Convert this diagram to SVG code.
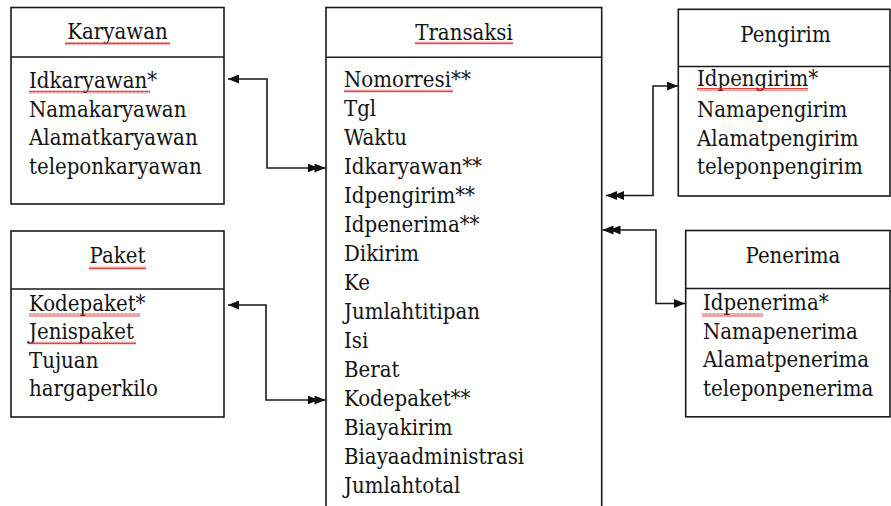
<svg xmlns="http://www.w3.org/2000/svg" width="891" height="506" viewBox="0 0 891 506">
<style>
.box{fill:#fff;stroke:#1a1a1a;stroke-width:1.6}
.div{stroke:#1a1a1a;stroke-width:1.6}
.t{font-family:'DejaVu Serif Condensed','DejaVu Serif',serif;font-stretch:condensed;font-size:22px;fill:#141414}
.title{text-anchor:middle}
.conn{fill:none;stroke:#1a1a1a;stroke-width:1.6}
.spell{fill:url(#wave)}
</style>
<defs>
<pattern id="wave" width="4" height="3" patternUnits="userSpaceOnUse">
<path d="M0 2.6 L1 0.4 L2 2.6 L3 0.4 L4 2.6" fill="none" stroke="#e03030" stroke-width="0.9"/>
</pattern>
<marker id="arr" viewBox="0 0 11 9" refX="11" refY="4.5" markerWidth="11" markerHeight="9" markerUnits="userSpaceOnUse" orient="auto-start-reverse">
<path d="M0,0 L11,4.5 L0,9 Z" fill="#111"/>
</marker>
<marker id="darr" viewBox="0 0 18 9" refX="18" refY="4.5" markerWidth="18" markerHeight="9" markerUnits="userSpaceOnUse" orient="auto-start-reverse">
<path d="M0,0 L11,4.5 L0,9 Z M7,0 L18,4.5 L7,9 Z" fill="#111"/>
</marker>
</defs>
<rect width="891" height="506" fill="#fff"/>

<g id="karyawan">
<rect class="box" x="11" y="7.5" width="213" height="196.5"/>
<line class="div" x1="11" y1="57" x2="224" y2="57"/>
<text class="t title" x="117.5" y="39">Karyawan</text>
<rect class="spell" x="65" y="42" width="105" height="3"/>
<text class="t" x="29" y="88">Idkaryawan*</text>
<rect class="spell" x="29" y="90.5" width="121" height="3"/>
<text class="t" x="29" y="116.5">Namakaryawan</text>
<text class="t" x="29" y="145">Alamatkaryawan</text>
<text class="t" x="29" y="173.5">teleponkaryawan</text>
</g>

<g id="paket">
<rect class="box" x="11" y="231" width="213" height="186"/>
<line class="div" x1="11" y1="289" x2="224" y2="289"/>
<text class="t title" x="117.5" y="262.5">Paket</text>
<rect class="spell" x="89" y="266.5" width="57" height="3"/>
<text class="t" x="29" y="310.5">Kodepaket*</text>
<rect class="spell" x="29" y="313.5" width="111" height="3"/>
<text class="t" x="29" y="339">Jenispaket</text>
<rect class="spell" x="29" y="341.5" width="107" height="3"/>
<text class="t" x="29" y="367.5">Tujuan</text>
<text class="t" x="29" y="396">hargaperkilo</text>
</g>

<g id="transaksi">
<rect class="box" x="326" y="7.5" width="275.7" height="510"/>
<line class="div" x1="326" y1="57.3" x2="601.7" y2="57.3"/>
<text class="t title" x="464" y="40">Transaksi</text>
<rect class="spell" x="415" y="41.5" width="98" height="3"/>
<text class="t" x="344" y="86.7">Nomorresi**</text>
<rect class="spell" x="344" y="89.5" width="109" height="3"/>
<text class="t" x="344" y="115.7">Tgl</text>
<text class="t" x="344" y="144.7">Waktu</text>
<text class="t" x="344" y="173.8">Idkaryawan**</text>
<text class="t" x="344" y="202.8">Idpengirim**</text>
<text class="t" x="344" y="231.8">Idpenerima**</text>
<text class="t" x="344" y="260.8">Dikirim</text>
<text class="t" x="344" y="289.8">Ke</text>
<text class="t" x="344" y="318.9">Jumlahtitipan</text>
<text class="t" x="344" y="347.9">Isi</text>
<text class="t" x="344" y="376.9">Berat</text>
<text class="t" x="344" y="405.9">Kodepaket**</text>
<text class="t" x="344" y="434.9">Biayakirim</text>
<text class="t" x="344" y="464">Biayaadministrasi</text>
<text class="t" x="344" y="493">Jumlahtotal</text>
</g>

<g id="pengirim">
<rect class="box" x="678.3" y="9.3" width="211.7" height="186.7"/>
<line class="div" x1="678.3" y1="66.5" x2="890" y2="66.5"/>
<text class="t title" x="785.5" y="41.5">Pengirim</text>
<text class="t" x="697" y="86">Idpengirim*</text>
<rect class="spell" x="697" y="88" width="111" height="3"/>
<text class="t" x="697" y="117">Namapengirim</text>
<text class="t" x="697" y="145.5">Alamatpengirim</text>
<text class="t" x="697" y="174">teleponpengirim</text>
</g>

<g id="penerima">
<rect class="box" x="685.7" y="230.5" width="204.3" height="186.3"/>
<line class="div" x1="685.7" y1="288.5" x2="890" y2="288.5"/>
<text class="t title" x="793" y="262.5">Penerima</text>
<text class="t" x="703" y="310">Idpenerima*</text>
<rect class="spell" x="702" y="313.5" width="61" height="3"/>
<text class="t" x="703" y="338.5">Namapenerima</text>
<text class="t" x="703" y="367">Alamatpenerima</text>
<text class="t" x="703" y="395.5">teleponpenerima</text>
</g>

<g id="connectors">
<path class="conn" d="M228 79 H267 V168 H325.5" marker-start="url(#arr)" marker-end="url(#darr)"/>
<path class="conn" d="M228 305 H266 V400 H325.5" marker-start="url(#arr)" marker-end="url(#darr)"/>
<path class="conn" d="M606 195.5 H653 V86 H678" marker-start="url(#darr)" marker-end="url(#arr)"/>
<path class="conn" d="M602.5 230 H656 V303.5 H685" marker-start="url(#darr)" marker-end="url(#arr)"/>
</g>
</svg>
